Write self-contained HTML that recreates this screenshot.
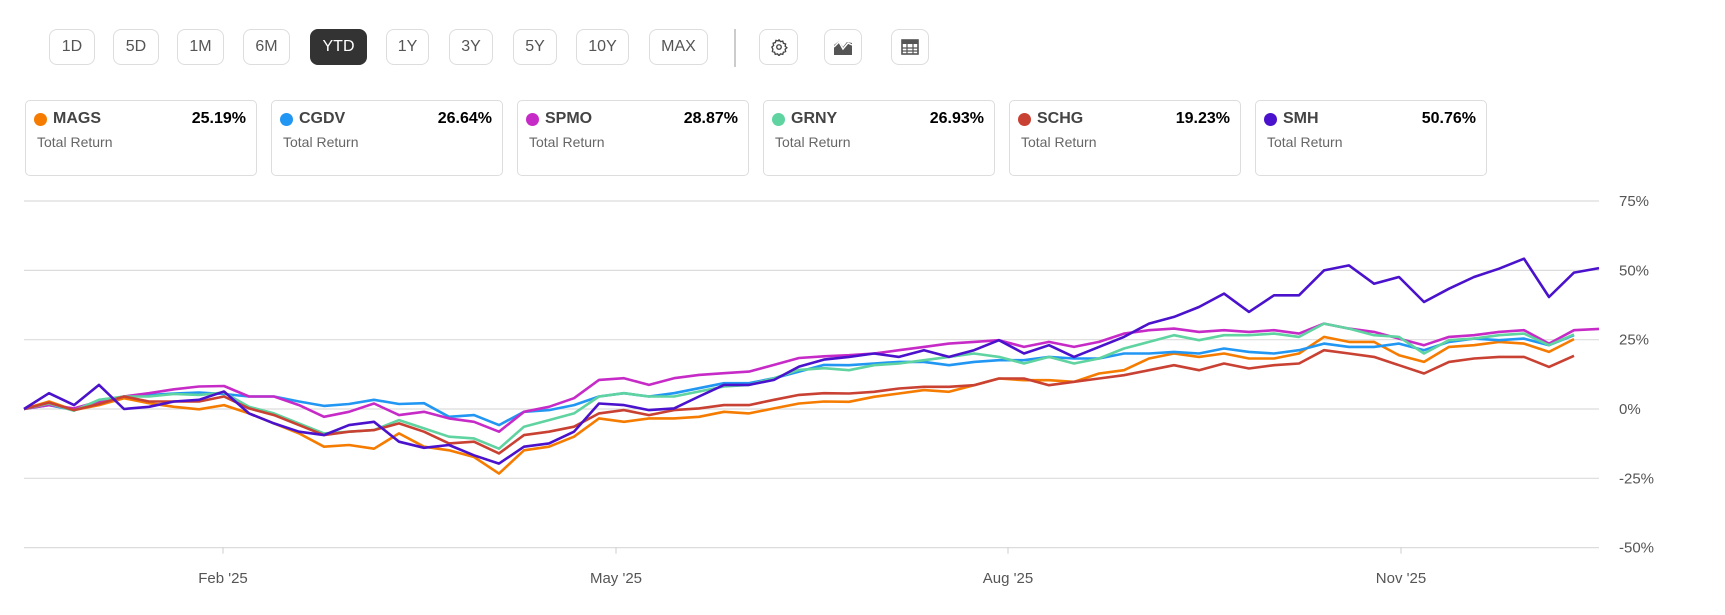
<!DOCTYPE html>
<html><head><meta charset="utf-8">
<style>
body{margin:0;width:1725px;height:615px;background:#fff;font-family:"Liberation Sans",Arial,sans-serif;position:relative;overflow:hidden}
.btn{position:absolute;top:29px;height:36px;border:1px solid #ddd;border-radius:8px;box-sizing:border-box;display:flex;align-items:center;justify-content:center;font-size:16px;color:#555;background:#fff}
.btn.on{background:#333;color:#fff;border-color:#333}
.card{position:absolute;top:100px;width:232px;height:76px;border:1px solid #ddd;border-radius:5px;box-sizing:border-box}
.card .dot{position:absolute;left:8px;top:12px;width:13px;height:13px;border-radius:50%}
.card .nm{position:absolute;left:27px;top:9px;font-size:16px;font-weight:bold;color:#444}
.card .pc{position:absolute;right:10px;top:9px;font-size:16px;font-weight:bold;color:#000}
.card .tr{position:absolute;left:11px;top:33px;font-size:14px;color:#666}
#chart{position:absolute;left:0;top:0}
</style></head><body>
<div class="btn" style="left:49px;width:46px">1D</div>
<div class="btn" style="left:113px;width:46px">5D</div>
<div class="btn" style="left:177px;width:47px">1M</div>
<div class="btn" style="left:243px;width:47px">6M</div>
<div class="btn on" style="left:310px;width:57px">YTD</div>
<div class="btn" style="left:386px;width:43px">1Y</div>
<div class="btn" style="left:449px;width:44px">3Y</div>
<div class="btn" style="left:513px;width:44px">5Y</div>
<div class="btn" style="left:576px;width:53px">10Y</div>
<div class="btn" style="left:649px;width:59px">MAX</div>
<div style="position:absolute;left:734px;top:29px;width:2px;height:38px;background:#ccc"></div>
<div class="btn" style="left:759px;width:39px">
<svg width="18" height="18" viewBox="0 0 24 24" fill="none" stroke="#444" stroke-width="1.8"><circle cx="12" cy="12" r="3"/><path d="M12 2.5l2 2.3 3-.6.9 2.9 2.9.9-.6 3 2.3 2-2.3 2 .6 3-2.9.9-.9 2.9-3-.6-2 2.3-2-2.3-3 .6-.9-2.9-2.9-.9.6-3L2.5 12l2.3-2-.6-3 2.9-.9.9-2.9 3 .6z"/></svg></div>
<div class="btn" style="left:824px;width:38px">
<svg width="20" height="18" viewBox="0 0 20 18"><path d="M1 17V7l5-4 4 6 4-5 5 1v12z" fill="#555"/><path d="M1 9l5-5 4 7 5-6 4 2" stroke="#fff" stroke-width="1.5" fill="none"/></svg></div>
<div class="btn" style="left:891px;width:38px">
<svg width="18" height="16" viewBox="0 0 18 16"><rect x="1" y="1" width="16" height="14" fill="none" stroke="#555" stroke-width="1.6"/><rect x="1" y="1" width="16" height="4" fill="#555"/><path d="M1 9h16M1 12h16M6 5v10M12 5v10" stroke="#555" stroke-width="1.2"/></svg></div>

<div class="card" style="left:25px"><div class="dot" style="background:#f57c00"></div><div class="nm">MAGS</div><div class="pc">25.19%</div><div class="tr">Total Return</div></div>
<div class="card" style="left:271px"><div class="dot" style="background:#2196f3"></div><div class="nm">CGDV</div><div class="pc">26.64%</div><div class="tr">Total Return</div></div>
<div class="card" style="left:517px"><div class="dot" style="background:#c72bc7"></div><div class="nm">SPMO</div><div class="pc">28.87%</div><div class="tr">Total Return</div></div>
<div class="card" style="left:763px"><div class="dot" style="background:#5fd3a0"></div><div class="nm">GRNY</div><div class="pc">26.93%</div><div class="tr">Total Return</div></div>
<div class="card" style="left:1009px"><div class="dot" style="background:#c94132"></div><div class="nm">SCHG</div><div class="pc">19.23%</div><div class="tr">Total Return</div></div>
<div class="card" style="left:1255px"><div class="dot" style="background:#4a12cc"></div><div class="nm">SMH</div><div class="pc">50.76%</div><div class="tr">Total Return</div></div>

<svg id="chart" width="1725" height="615"></svg>
<script>
const yTicks=[75,50,25,0,-25,-50];
const xTickLabels=["Feb '25","May '25","Aug '25","Nov '25"];
const xTickIdx=[7.96,23.68,39.36,55.08];
const MAGS=[0,2.7,-0.4,1.4,3.9,2.1,0.8,-0.1,1.4,-1.6,-5.2,-8.8,-13.6,-13,-14.3,-8.8,-13.6,-14.9,-17.3,-23.3,-14.9,-13.6,-10,-3.4,-4.6,-3.4,-3.4,-2.8,-1,-1.6,0.2,2,2.7,2.6,4.4,5.6,6.8,6.2,8.6,11,10.4,10.4,9.8,12.8,14,18.2,20,18.8,20,18.2,18.2,20,26,24.2,24.2,19.4,17,22.4,23,24.2,23.6,20.6,25.2,null];
const CGDV=[0,1.4,-0.4,2.7,4.5,5,5.6,5.9,5.4,4.5,4.5,2.7,1.1,1.8,3.3,1.8,2.1,-2.8,-2.2,-5.8,-1,-0.4,1.4,4.5,5.7,4.5,5.7,7.5,9.3,9.3,11.1,13.5,15.9,15.8,16.4,17,17,15.8,17,17.6,17.6,18.8,18.2,18.2,20,20,20.6,20,21.8,20.6,20,21.2,23.6,22.4,22.4,23.6,21.2,24.2,25.4,24.8,25.4,23,26.6,null];
const SPMO=[0,1.4,0.2,2.7,4.5,5.7,7.1,8.1,8.3,4.5,4.5,1.4,-2.8,-1,2,-2.2,-1,-3.4,-4.6,-8.2,-1,0.8,3.9,10.5,11.1,8.7,11.1,12.3,12.9,13.5,15.9,18.4,19,19.4,20,21.2,22.4,23.6,24.2,24.8,22.4,24.2,22.4,24.2,27.2,28.4,29,27.8,28.4,27.8,28.4,27.2,30.8,29,27.8,25.4,23,26,26.6,27.8,28.4,23.6,28.4,28.9];
const GRNY=[0,2,-0.6,3.3,4.5,4.5,5.4,5.1,5.9,0.8,-1.6,-5.2,-8.8,-8.2,-7.6,-4,-7,-10,-10.6,-14.3,-6.4,-4,-1.6,4.5,5.7,4.5,4.5,6.3,8.1,8.7,11.1,14.1,14.7,14,15.8,16.4,17.6,18.8,20,18.8,16.4,18.8,16.4,18.2,21.8,24.2,26.6,24.8,26.6,26.6,27.2,26,30.8,29,26.6,26,20,24.8,25.4,26.6,27.2,23,26.9,null];
const SCHG=[0,2.3,-0.4,1.8,4.5,2.7,2.7,2.7,4.5,0.2,-2.2,-5.8,-9.4,-8.2,-7.6,-5.2,-8.2,-12.4,-11.8,-16,-9.4,-8.2,-6.4,-1.6,-0.4,-2.2,-0.4,0.2,1.4,1.4,3.3,5.1,5.7,5.6,6.2,7.4,8,8,8.6,11,11,8.6,9.8,11,12.2,14,15.8,14,16.4,14.6,15.8,16.4,21.2,20,18.8,15.8,12.8,17,18.2,18.8,18.8,15.2,19.2,null];
const SMH=[0,5.7,1.4,8.7,0,0.8,2.7,3.3,6.3,-1.6,-5.2,-8.2,-9.4,-5.8,-4.6,-11.8,-14,-13,-16.7,-19.7,-13.6,-12.4,-8.2,2,1.4,-0.4,0.2,4.5,8.7,8.7,10.5,15.3,17.8,18.8,20,18.8,21.2,18.8,21.2,24.8,20,23,18.8,22.4,26,30.8,33.2,36.8,41.6,35,41,41,50,51.8,45.2,47.6,38.6,43.4,47.6,50.6,54.2,40.4,49.2,50.8];
const seriesNames=["mags","cgdv","spmo","grny","schg","smh"];
const seriesColors=["#f57c00","#2196f3","#c72bc7","#5fd3a0","#c94132","#4a12cc"];
const seriesData=[MAGS,CGDV,SPMO,GRNY,SCHG,SMH];

const NS="http://www.w3.org/2000/svg";
const svg=document.getElementById('chart');
const X0=24,X1=1599,Y0=409,PX_PER_PCT=2.773;
const N=SMH.length;
function xScale(i){return X0+i*(X1-X0)/(N-1);}
function yScale(v){return Y0-v*PX_PER_PCT;}
function mk(t,a){const e=document.createElementNS(NS,t);for(const k in a)e.setAttribute(k,a[k]);svg.appendChild(e);return e;}
yTicks.forEach(v=>{
  const l=mk('line',{x1:X0,x2:X1,y1:yScale(v),y2:yScale(v),stroke:'#dcdcdc','stroke-width':1.2});
  
  
  const t=mk('text',{x:1619,y:yScale(v)+5,'font-size':15,fill:'#555','font-family':'Liberation Sans, sans-serif'});
  t.textContent=v+'%';
  
  
});
xTickIdx.forEach((ix,k)=>{
  const x=xScale(ix);
  const m=mk('line',{x1:x,x2:x,y1:yScale(-50),y2:yScale(-50)+6,stroke:'#ccc','stroke-width':1});
  
  
  const t=mk('text',{x:x,y:583,'font-size':15,fill:'#555','text-anchor':'middle','font-family':'Liberation Sans, sans-serif'});
  t.textContent=xTickLabels[k];
  
  
});
seriesData.forEach((arr,s)=>{
  let d='';
  arr.forEach((v,i)=>{if(v===null)return;d+=(d?'L':'M')+xScale(i).toFixed(1)+' '+yScale(v).toFixed(1);});
  const p=mk('path',{d:d,fill:'none',stroke:seriesColors[s],'stroke-width':2.6,'stroke-linejoin':'round'});
  
  
});
</script>
</body></html>
